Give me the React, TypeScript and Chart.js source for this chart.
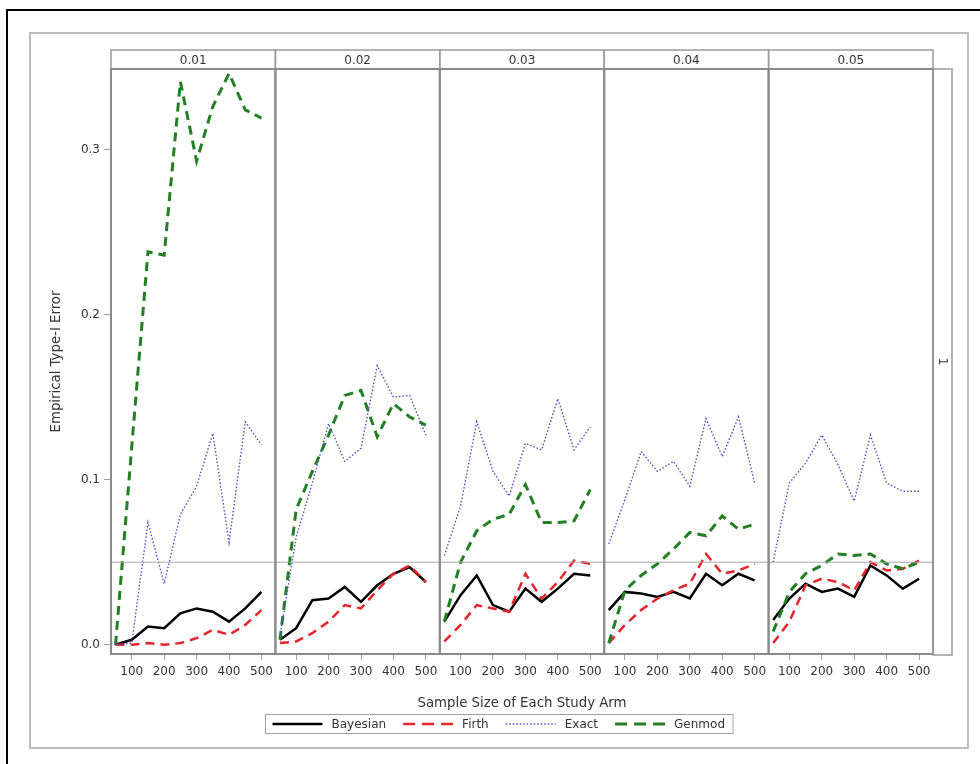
import React, { useEffect, useRef } from 'react';
import { Chart, registerables } from 'chart.js';

Chart.register(...registerables);

// ---------- data ----------
const sampleSizes = [50, 100, 150, 200, 250, 300, 350, 400, 450, 500];
const panelLabels = ['0.01', '0.02', '0.03', '0.04', '0.05'];
const rowLabel = '1';
const xTickValues = [100, 200, 300, 400, 500];
const yTickValues = [0, 0.1, 0.2, 0.3];
const referenceLevel = 0.05;

const bayesian = [
  [0.000, 0.003, 0.011, 0.010, 0.019, 0.022, 0.020, 0.014, 0.022, 0.032],
  [0.003, 0.010, 0.027, 0.028, 0.035, 0.026, 0.036, 0.043, 0.047, 0.038],
  [0.014, 0.030, 0.042, 0.024, 0.020, 0.034, 0.026, 0.034, 0.043, 0.042],
  [0.021, 0.032, 0.031, 0.029, 0.032, 0.028, 0.043, 0.036, 0.043, 0.039],
  [0.015, 0.028, 0.037, 0.032, 0.034, 0.029, 0.048, 0.042, 0.034, 0.040],
];
const firth = [
  [0.000, 0.000, 0.001, 0.000, 0.001, 0.004, 0.009, 0.006, 0.012, 0.021],
  [0.001, 0.002, 0.007, 0.014, 0.024, 0.022, 0.033, 0.043, 0.048, 0.038],
  [0.002, 0.012, 0.024, 0.022, 0.020, 0.043, 0.028, 0.038, 0.051, 0.049],
  [0.001, 0.012, 0.021, 0.028, 0.033, 0.037, 0.055, 0.043, 0.045, 0.049],
  [0.001, 0.014, 0.036, 0.040, 0.038, 0.033, 0.050, 0.045, 0.046, 0.051],
];
const exact = [
  [0.000, 0.001, 0.074, 0.037, 0.079, 0.096, 0.128, 0.062, 0.135, 0.121],
  [0.005, 0.065, 0.098, 0.134, 0.111, 0.119, 0.169, 0.150, 0.151, 0.127],
  [0.054, 0.084, 0.135, 0.105, 0.090, 0.122, 0.118, 0.149, 0.118, 0.132],
  [0.061, 0.088, 0.117, 0.105, 0.111, 0.096, 0.137, 0.114, 0.138, 0.098],
  [0.050, 0.098, 0.110, 0.127, 0.109, 0.087, 0.127, 0.098, 0.093, 0.093],
];
const genmod = [
  [0.000, 0.120, 0.238, 0.236, 0.341, 0.293, 0.326, 0.346, 0.324, 0.319],
  [0.003, 0.082, 0.105, 0.127, 0.151, 0.154, 0.126, 0.146, 0.138, 0.133],
  [0.014, 0.050, 0.069, 0.076, 0.079, 0.097, 0.074, 0.074, 0.075, 0.094],
  [0.001, 0.033, 0.042, 0.049, 0.058, 0.068, 0.066, 0.078, 0.070, 0.073],
  [0.008, 0.032, 0.043, 0.048, 0.055, 0.054, 0.055, 0.049, 0.046, 0.050],
];

// ---------- styling ----------
const FONT = '"DejaVu Sans", Verdana, sans-serif';
const TEXT = '#333333';
const X_MIN = 36;
const X_MAX = 543;
const SPAN = X_MAX - X_MIN;
const toX = (p: number, v: number) => p * SPAN + (v - X_MIN);

const methods = [
  { label: 'Bayesian', values: bayesian, color: '#000000', width: 2.5, dash: [] as number[] },
  { label: 'Firth', values: firth, color: '#e3262b', width: 2.5, dash: [9, 6] },
  { label: 'Exact', values: exact, color: '#5050c8', width: 1.4, dash: [1.5, 2] },
  { label: 'Genmod', values: genmod, color: '#237f23', width: 3, dash: [9, 6] },
];

const decorPlugin = {
  id: 'decor',
  beforeDraw(chart: any) {
    const { ctx, width, height } = chart;
    ctx.save();
    ctx.fillStyle = '#ffffff';
    ctx.fillRect(0, 0, width, height);
    ctx.strokeStyle = '#bdbdbd';
    ctx.lineWidth = 2;
    ctx.strokeRect(30, 33, 938, 715);
    ctx.strokeStyle = '#000000';
    ctx.lineWidth = 2;
    ctx.beginPath();
    ctx.moveTo(7, height);
    ctx.lineTo(7, 10);
    ctx.lineTo(width, 10);
    ctx.stroke();
    ctx.restore();
  },
  afterDraw(chart: any) {
    const { ctx, chartArea: ca, scales } = chart;
    const xs = scales.x;
    const edges = panelLabels.map((_, p) => xs.getPixelForValue(p * SPAN));
    edges.push(xs.getPixelForValue(panelLabels.length * SPAN));
    ctx.save();
    const stripH = 19;
    const stripTop = ca.top - stripH;
    ctx.font = `12px ${FONT}`;
    ctx.textAlign = 'center';
    ctx.textBaseline = 'middle';
    for (let p = 0; p < panelLabels.length; p++) {
      ctx.strokeStyle = '#9a9a9a';
      ctx.lineWidth = 1.5;
      ctx.strokeRect(edges[p], stripTop, edges[p + 1] - edges[p], stripH);
      ctx.fillStyle = TEXT;
      ctx.fillText(panelLabels[p], (edges[p] + edges[p + 1]) / 2, stripTop + stripH / 2 + 1);
    }
    ctx.strokeStyle = '#8a8a8a';
    ctx.lineWidth = 2;
    for (let p = 0; p < panelLabels.length; p++) {
      ctx.strokeRect(edges[p], ca.top, edges[p + 1] - edges[p], ca.bottom - ca.top);
    }
    ctx.strokeStyle = '#9a9a9a';
    ctx.lineWidth = 1.5;
    ctx.strokeRect(ca.right, ca.top, 19, ca.bottom - ca.top + 1);
    ctx.save();
    ctx.translate(ca.right + 9.5, (ca.top + ca.bottom) / 2);
    ctx.rotate(Math.PI / 2);
    ctx.fillStyle = TEXT;
    ctx.fillText(rowLabel, 0, 0);
    ctx.restore();

    ctx.font = `12px ${FONT}`;
    const sample = 50;
    const gap1 = 9;
    const gap2 = 17;
    const padL = 7;
    const padR = 8;
    const widths = methods.map((m) => ctx.measureText(m.label).width);
    let total = padL + padR;
    widths.forEach((w, i) => {
      total += sample + gap1 + w + (i < widths.length - 1 ? gap2 : 0);
    });
    const cx = 499;
    const boxL = Math.round(cx - total / 2) + 0.5;
    const boxT = 714.5;
    const boxH = 19;
    ctx.strokeStyle = '#a0a0a0';
    ctx.lineWidth = 1;
    ctx.strokeRect(boxL, boxT, total, boxH);
    let x = boxL + padL;
    const ly = boxT + boxH / 2;
    methods.forEach((m, i) => {
      ctx.beginPath();
      ctx.strokeStyle = m.color;
      ctx.lineWidth = m.width;
      ctx.setLineDash(m.dash.length ? (m.label === 'Exact' ? m.dash : [12, 7]) : []);
      ctx.moveTo(x, ly);
      ctx.lineTo(x + sample, ly);
      ctx.stroke();
      ctx.setLineDash([]);
      x += sample + gap1;
      ctx.fillStyle = TEXT;
      ctx.textAlign = 'left';
      ctx.textBaseline = 'middle';
      ctx.fillText(m.label, x, ly + 1);
      x += widths[i] + gap2;
    });
    ctx.restore();
  },
};

export default function App() {
  const canvasRef = useRef<HTMLCanvasElement | null>(null);

  useEffect(() => {
    if (!canvasRef.current) return;
    const datasets: any[] = [
      {
        label: 'ref',
        data: [
          { x: 0, y: referenceLevel },
          { x: panelLabels.length * SPAN, y: referenceLevel },
        ],
        borderColor: '#a8a8a8',
        borderWidth: 1,
        pointRadius: 0,
        fill: false,
      },
    ];
    const order = [2, 3, 1, 0];
    order.forEach((mi) => {
      const m = methods[mi];
      panelLabels.forEach((_, p) => {
        datasets.push({
          label: m.label,
          data: sampleSizes.map((s, i) => ({ x: toX(p, s), y: m.values[p][i] })),
          borderColor: m.color,
          borderWidth: m.width,
          borderDash: m.dash,
          pointRadius: 0,
          fill: false,
          tension: 0,
        });
      });
    });

    const tickFont = { family: FONT, size: 12 };
    const chart = new Chart(canvasRef.current, {
      type: 'line',
      data: { datasets },
      plugins: [decorPlugin],
      options: {
        animation: false,
        responsive: false,
        maintainAspectRatio: false,
        layout: { padding: { left: 45, right: 47, top: 69, bottom: 0 } },
        plugins: {
          legend: { display: false },
          tooltip: { enabled: false },
        },
        scales: {
          x: {
            type: 'linear',
            min: 0,
            max: panelLabels.length * SPAN,
            afterBuildTicks: (scale: any) => {
              scale.ticks = panelLabels.flatMap((_, p) => xTickValues.map((v) => ({ value: toX(p, v) })));
            },
            afterFit: (scale: any) => {
              scale.height = 110;
            },
            grid: { drawOnChartArea: false, drawTicks: true, tickLength: 6, color: '#a0a0a0', lineWidth: 1 },
            border: { display: false },
            ticks: {
              autoSkip: false,
              maxRotation: 0,
              padding: 5,
              color: TEXT,
              font: tickFont,
              callback: (value: any) => String(Math.round((Number(value) % SPAN) + X_MIN)),
            },
            title: {
              display: true,
              text: 'Sample Size of Each Study Arm',
              color: TEXT,
              font: { family: FONT, size: 13.3 },
              padding: { top: 0, bottom: 52 },
            },
          },
          y: {
            type: 'linear',
            min: -0.0056,
            max: 0.3487,
            afterBuildTicks: (scale: any) => {
              scale.ticks = yTickValues.map((v) => ({ value: v }));
            },
            afterFit: (scale: any) => {
              scale.width = 66;
            },
            grid: { drawOnChartArea: false, drawTicks: true, tickLength: 7, color: '#a0a0a0', lineWidth: 1 },
            border: { display: false },
            ticks: {
              padding: 4,
              color: TEXT,
              font: tickFont,
              callback: (value: any) => Number(value).toFixed(1),
            },
            title: {
              display: true,
              text: 'Empirical Type-I Error',
              color: TEXT,
              font: { family: FONT, size: 13.3 },
              padding: { top: 4, bottom: 4 },
            },
          },
        },
      } as any,
    });
    return () => chart.destroy();
  }, []);

  return (
    <div style={{ position: 'absolute', left: 0, top: 0, width: 980, height: 764, background: '#fff' }}>
      <canvas ref={canvasRef} width={980} height={764} style={{ display: 'block', width: 980, height: 764 }} />
    </div>
  );
}
